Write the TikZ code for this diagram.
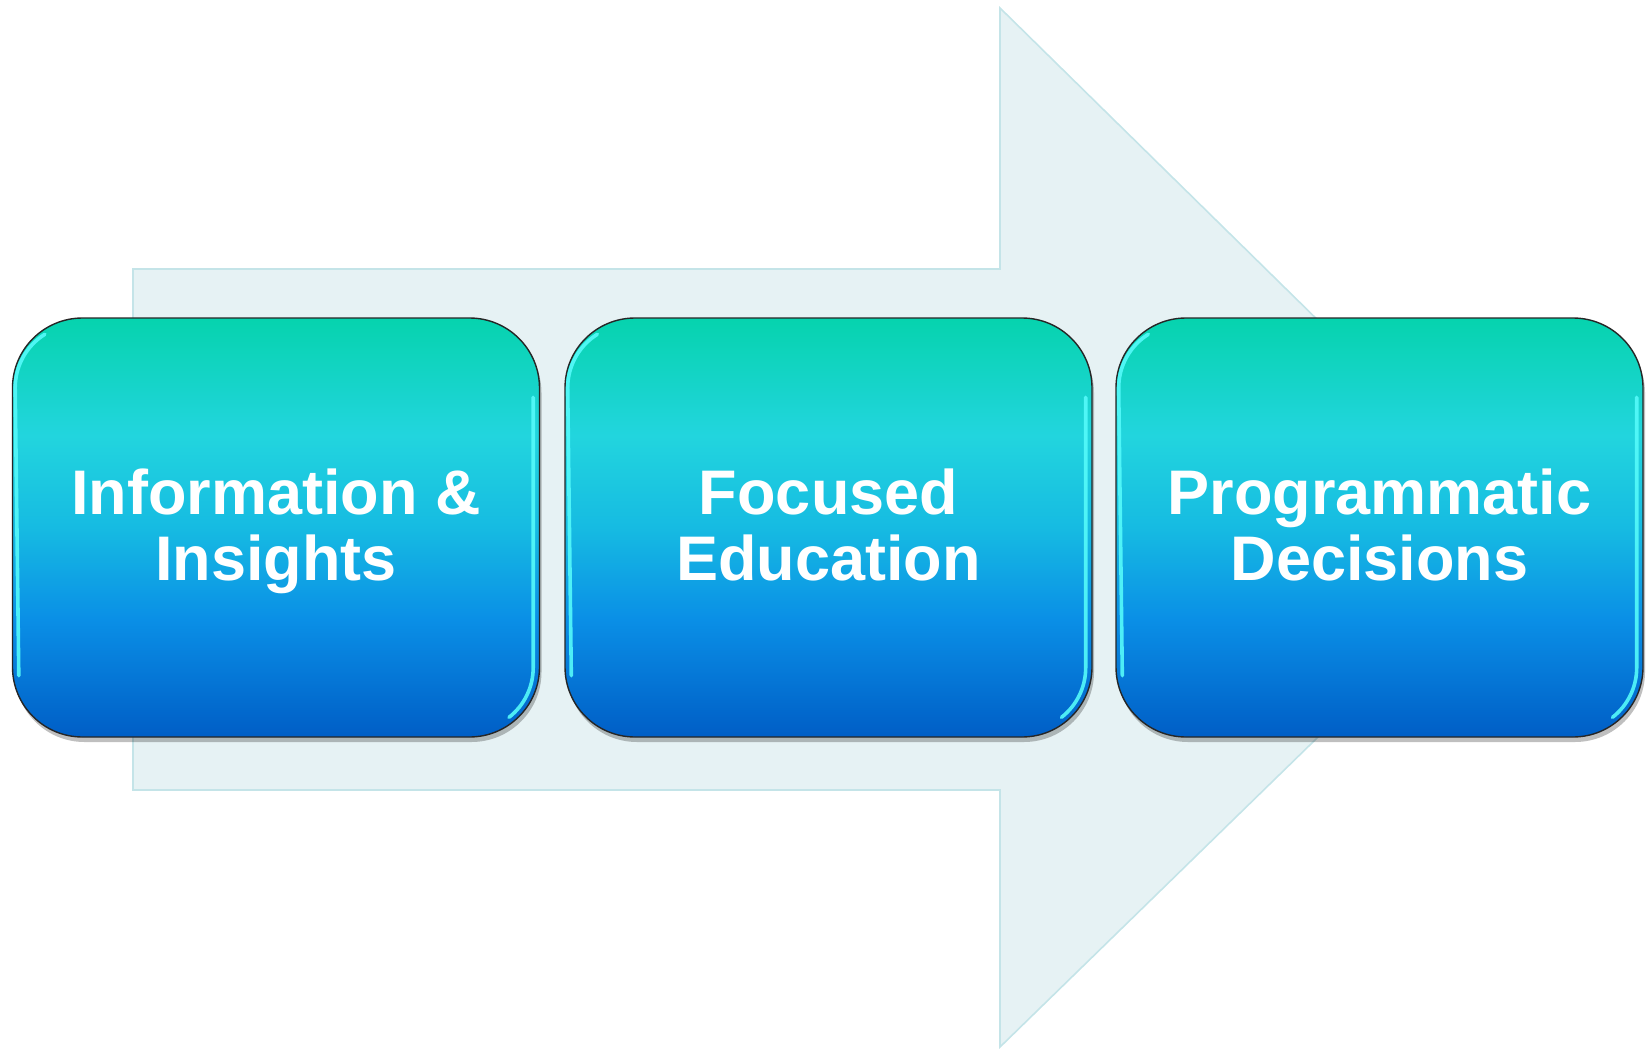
\documentclass[tikz,border=0pt]{standalone}
\usepackage{fontspec}
\setmainfont{Liberation Sans}
\usetikzlibrary{shadows,calc}
\definecolor{arrowfill}{HTML}{E6F2F4}
\definecolor{arrowline}{HTML}{C4E4E8}
\definecolor{gA}{HTML}{06D3AE}
\definecolor{gB}{HTML}{22D5DE}
\definecolor{gC}{HTML}{16BBE2}
\definecolor{gD}{HTML}{0A8FE6}
\definecolor{gE}{HTML}{005EC6}
\definecolor{glosscol}{HTML}{55FAFA}
\pgfdeclareverticalshading{boxshade}{100bp}{color(0bp)=(gE); color(25bp)=(gE); color(39bp)=(gD); color(50bp)=(gC); color(61bp)=(gB); color(75bp)=(gA); color(100bp)=(gA)}
\tikzset{
  stepbox/.style={draw=black!85, line width=1.4pt, rounded corners=70pt, shading=boxshade,
    minimum width=527pt, minimum height=419pt, inner sep=0pt, text=white,
    font=\bfseries\fontsize{63}{66}\selectfont, align=center,
    text height=121pt, text depth=16pt,
    drop shadow={shadow xshift=2pt, shadow yshift=-5pt, opacity=0.25, fill=black}},
  gloss/.style={draw=glosscol, line width=3.6pt, opacity=0.9, line cap=round},
  bigarrow/.style={fill=arrowfill, draw=arrowline, line width=1.6pt, line join=miter}
}
\begin{document}
\begin{tikzpicture}[x=1pt,y=-1pt]
\useasboundingbox (0,0) rectangle (1646,1049);
% background arrow
\draw[bigarrow] (133,269) -- (1000,269) -- (1000,8) -- (1531,529.5) -- (1000,1047) -- (1000,790) -- (133,790) -- cycle;
% boxes
\node[stepbox] (b1) at (276,527.5) {Information \&\\Insights};
\node[stepbox] (b2) at (828.5,527.5) {Focused\\Education};
\node[stepbox] (b3) at (1379.5,527.5) {Programmatic\\Decisions};
% gloss highlights
\foreach \b in {b1,b2,b3}{
  \draw[gloss] ($(\b.north west)+(33,17)$) arc[start angle=238, end angle=180, radius=63] -- ($(\b.south west)+(7,-62)$);
  \draw[gloss] ($(\b.north east)+(-7,80)$) -- ($(\b.south east)+(-7,-70)$) arc[start angle=0, end angle=52, radius=63];
}
\end{tikzpicture}
\end{document}
